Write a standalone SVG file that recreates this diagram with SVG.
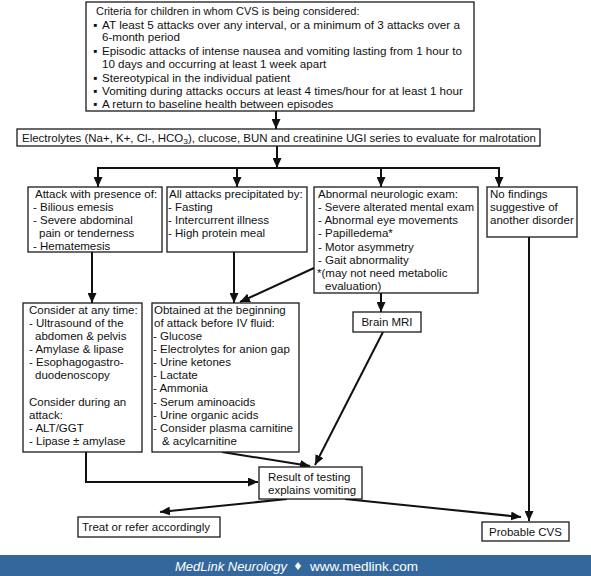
<svg xmlns="http://www.w3.org/2000/svg" width="591" height="576" viewBox="0 0 591 576">
<style>
  .box { fill: #ffffff; stroke: #1a1a1a; stroke-width: 1.3; }
  .t { font-family: "Liberation Sans", Arial, sans-serif; font-size: 11.5px; fill: #111; }
  .ts { font-family: "Liberation Sans", Arial, sans-serif; font-size: 11px; fill: #111; }
  .tb { font-family: "Liberation Sans", Arial, sans-serif; font-size: 11.6px; fill: #111; }
  .c { fill: none; stroke: #111; stroke-width: 2; }
  .ft { font-family: "Liberation Sans", Arial, sans-serif; font-size: 13.5px; fill: #ffffff; }
</style>
<defs>
  <marker id="ah" markerUnits="userSpaceOnUse" markerWidth="10" markerHeight="9" refX="10" refY="4.5" orient="auto">
    <path d="M0,0 L10,4.5 L0,9 z" fill="#111"/>
  </marker>
</defs>
<rect width="591" height="576" fill="#ffffff"/>

<g id="connectors">
  <line class="c" x1="276" y1="111" x2="276" y2="129" marker-end="url(#ah)"/>
  <line class="c" x1="277" y1="146" x2="277" y2="168" marker-end="url(#ah)"/>
  <line class="c" x1="97" y1="168" x2="500" y2="168"/>
  <line class="c" x1="98" y1="168" x2="98" y2="187" marker-end="url(#ah)"/>
  <line class="c" x1="237" y1="168" x2="237" y2="187" marker-end="url(#ah)"/>
  <line class="c" x1="381" y1="168" x2="381" y2="187" marker-end="url(#ah)"/>
  <line class="c" x1="499" y1="168" x2="499" y2="187" marker-end="url(#ah)"/>
  <line class="c" x1="92" y1="252" x2="92" y2="303" marker-end="url(#ah)"/>
  <line class="c" x1="234" y1="252" x2="234" y2="303" marker-end="url(#ah)"/>
  <line class="c" x1="314" y1="268" x2="240" y2="302" marker-end="url(#ah)"/>
  <line class="c" x1="381" y1="293" x2="381" y2="312" marker-end="url(#ah)"/>
  <line class="c" x1="383" y1="332" x2="315" y2="465" marker-end="url(#ah)"/>
  <line class="c" x1="222" y1="452" x2="310" y2="466" marker-end="url(#ah)"/>
  <polyline class="c" points="86,452 86,482 258,482" marker-end="url(#ah)"/>
  <line class="c" x1="287" y1="499" x2="160" y2="512" marker-end="url(#ah)"/>
  <line class="c" x1="345" y1="499" x2="521" y2="517" marker-end="url(#ah)"/>
  <line class="c" x1="529" y1="237" x2="529" y2="521" marker-end="url(#ah)"/>
</g>

<g id="criteria">
  <rect class="box" x="86" y="2" width="388" height="109"/>
  <text class="ts" x="96" y="15">Criteria for children in whom CVS is being considered:</text>
  <text class="tb" x="93" y="29">▪</text>
  <text class="tb" x="102" y="29" textLength="358" lengthAdjust="spacingAndGlyphs">AT least 5 attacks over any interval, or a minimum of 3 attacks over a</text>
  <text class="tb" x="102" y="41">6-month period</text>
  <text class="tb" x="93" y="55">▪</text>
  <text class="tb" x="102" y="55" textLength="360" lengthAdjust="spacingAndGlyphs">Episodic attacks of intense nausea and vomiting lasting from 1 hour to</text>
  <text class="tb" x="102" y="68">10 days and occurring at least 1 week apart</text>
  <text class="tb" x="93" y="82">▪</text>
  <text class="tb" x="102" y="82">Stereotypical in the individual patient</text>
  <text class="tb" x="93" y="95">▪</text>
  <text class="tb" x="102" y="95" textLength="361" lengthAdjust="spacingAndGlyphs">Vomiting during attacks occurs at least 4 times/hour for at least 1 hour</text>
  <text class="tb" x="93" y="108">▪</text>
  <text class="tb" x="102" y="108">A return to baseline health between episodes</text>
</g>

<g id="electrolytes">
  <rect class="box" x="17" y="129" width="523" height="17"/>
  <text class="ts" x="22" y="142" textLength="514" lengthAdjust="spacingAndGlyphs">Electrolytes (Na+, K+, Cl-, HCO<tspan font-size="8" dy="2">3</tspan><tspan dy="-2">), clucose, BUN and creatinine UGI series to evaluate for malrotation</tspan></text>
</g>

<g id="attack">
  <rect class="box" x="28" y="187" width="134" height="65"/>
  <text class="t" x="35" y="198">Attack with presence of:</text>
  <text class="t" x="33" y="211">- Bilious emesis</text>
  <text class="t" x="33" y="224">- Severe abdominal</text>
  <text class="t" x="39" y="237">pain or tenderness</text>
  <text class="t" x="33" y="250">- Hematemesis</text>
</g>

<g id="precipitated">
  <rect class="box" x="167" y="187" width="140" height="65"/>
  <text class="t" x="169" y="198">All attacks precipitated by:</text>
  <text class="t" x="168" y="211">- Fasting</text>
  <text class="t" x="168" y="224">- Intercurrent illness</text>
  <text class="t" x="168" y="237">- High protein meal</text>
</g>

<g id="neurologic">
  <rect class="box" x="314" y="187" width="164" height="106"/>
  <text class="t" x="318" y="198">Abnormal neurologic exam:</text>
  <text class="t" x="318" y="211" textLength="156" lengthAdjust="spacingAndGlyphs">- Severe alterated mental exam</text>
  <text class="t" x="318" y="224">- Abnormal eye movements</text>
  <text class="t" x="318" y="237">- Papilledema*</text>
  <text class="t" x="318" y="251">- Motor asymmetry</text>
  <text class="t" x="318" y="264">- Gait abnormality</text>
  <text class="t" x="317" y="277">*(may not need metabolic</text>
  <text class="t" x="325" y="290">evaluation)</text>
</g>

<g id="nofindings">
  <rect class="box" x="487" y="187" width="90" height="50"/>
  <text class="t" x="490" y="198">No findings</text>
  <text class="t" x="490" y="211">suggestive of</text>
  <text class="t" x="490" y="224">another disorder</text>
</g>

<g id="consider">
  <rect class="box" x="23" y="303" width="119" height="149"/>
  <text class="t" x="29" y="314">Consider at any time:</text>
  <text class="t" x="29" y="327">- Ultrasound of the</text>
  <text class="t" x="35" y="340">abdomen &amp; pelvis</text>
  <text class="t" x="29" y="353">- Amylase &amp; lipase</text>
  <text class="t" x="29" y="366">- Esophagogastro-</text>
  <text class="t" x="35" y="379">duodenoscopy</text>
  <text class="t" x="29" y="406">Consider during an</text>
  <text class="t" x="29" y="419">attack:</text>
  <text class="t" x="29" y="432">- ALT/GGT</text>
  <text class="t" x="29" y="445">- Lipase ± amylase</text>
</g>

<g id="obtained">
  <rect class="box" x="152" y="303" width="147" height="149"/>
  <text class="t" x="154" y="314">Obtained at the beginning</text>
  <text class="t" x="154" y="327">of attack before IV fluid:</text>
  <text class="t" x="153" y="340">- Glucose</text>
  <text class="t" x="153" y="353">- Electrolytes for anion gap</text>
  <text class="t" x="153" y="366">- Urine ketones</text>
  <text class="t" x="153" y="379">- Lactate</text>
  <text class="t" x="153" y="392">- Ammonia</text>
  <text class="t" x="153" y="406">- Serum aminoacids</text>
  <text class="t" x="153" y="419">- Urine organic acids</text>
  <text class="t" x="153" y="432">- Consider plasma carnitine</text>
  <text class="t" x="162" y="445">&amp; acylcarnitine</text>
</g>

<g id="mri">
  <rect class="box" x="353" y="312" width="68" height="20"/>
  <text class="t" x="387" y="326" text-anchor="middle">Brain MRI</text>
</g>

<g id="result">
  <rect class="box" x="259" y="467" width="103" height="32"/>
  <text class="t" x="268" y="481">Result of testing</text>
  <text class="t" x="268" y="494">explains vomiting</text>
</g>

<g id="treat">
  <rect class="box" x="78" y="517" width="142" height="20"/>
  <text class="t" x="82" y="531">Treat or refer accordingly</text>
</g>

<g id="cvs">
  <rect class="box" x="482" y="522" width="87" height="19"/>
  <text class="t" x="525.5" y="536" text-anchor="middle">Probable CVS</text>
</g>

<g id="footer">
  <rect x="0" y="555" width="591" height="21" fill="#34679b"/>
  <text class="ft" x="175" y="571" font-style="italic" textLength="112" lengthAdjust="spacingAndGlyphs">MedLink Neurology</text>
  <text class="ft" x="298" y="570" font-size="9px" text-anchor="middle">♦</text>
  <text class="ft" x="310" y="571">www.medlink.com</text>
</g>
</svg>
